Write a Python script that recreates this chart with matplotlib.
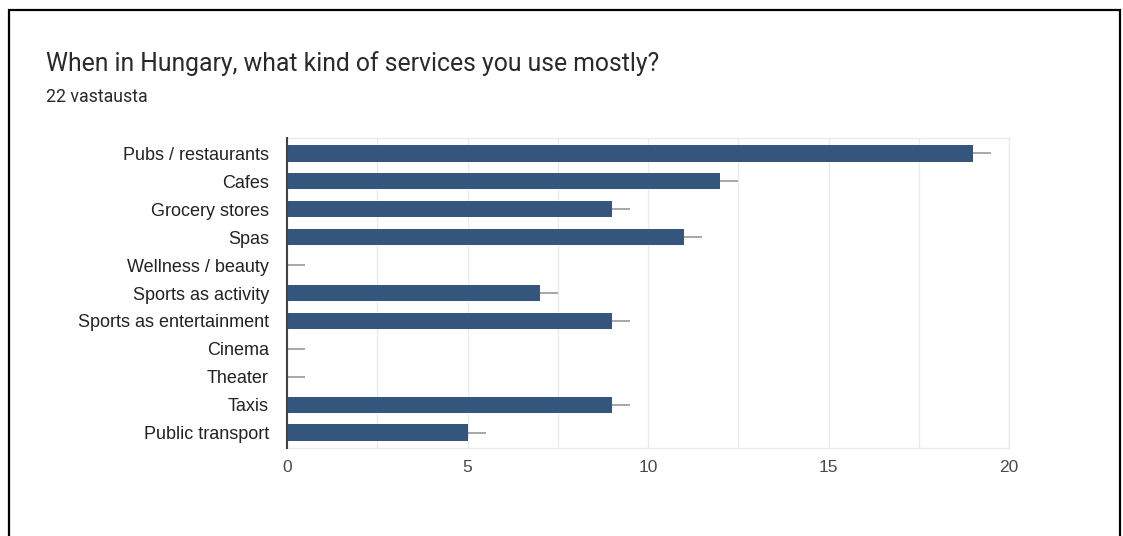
import matplotlib.pyplot as plt
from matplotlib.patches import Rectangle

# Vastausten määrät palveluittain
categories = ["Pubs / restaurants", "Cafes", "Grocery stores", "Spas",
              "Wellness / beauty", "Sports as activity", "Sports as entertainment",
              "Cinema", "Theater", "Taxis", "Public transport"]
counts = [19, 12, 9, 11, 0, 7, 9, 0, 0, 9, 5]
x_ticks = [0, 5, 10, 15, 20]

title = "When in Hungary, what kind of services you use mostly?"
subtitle = "22 vastausta"

bar_color = "#34567c"

fig = plt.figure(figsize=(11.23, 5.36), dpi=100)

# musta kehys kuvan ympärillä (alareuna jää kuvan ulkopuolelle)
fig.add_artist(Rectangle((8.5 / 1123, -0.05), (1120 - 8.5) / 1123, 1.05 - 10.5 / 536,
                         transform=fig.transFigure, fill=False,
                         edgecolor="black", linewidth=1.6))

fig.text(46 / 1123, 1 - 64 / 536, title, fontsize=17.8, family="Roboto",
         color="#2a2a2a", va="center")
fig.text(46 / 1123, 1 - 97 / 536, subtitle, fontsize=12.8, family="Roboto",
         color="#2a2a2a", va="center")

ax = fig.add_axes([287 / 1123, 1 - 448 / 536, (1009 - 287) / 1123, (448 - 138) / 536])

ypos = list(range(len(categories)))
ax.barh(ypos, counts, height=0.6, color=bar_color, zorder=3)

# ohut harmaa viiva jokaisen palkin perässä
for y, c in zip(ypos, counts):
    ax.plot([c, c + 0.5], [y, y], color="#a0a0a0", linewidth=1.3, zorder=2,
            solid_capstyle="butt")

ax.set_xlim(0, 20)
ax.set_ylim(len(categories) - 0.5 + 0.04, -0.5 - 0.04)
ax.set_xticks(x_ticks)
ax.set_xticks([2.5, 7.5, 12.5, 17.5], minor=True)
ax.set_yticks(ypos)
ax.set_yticklabels(categories, family="Liberation Sans", fontsize=13, color="#222222")
for lab in ax.get_xticklabels():
    lab.set_family("Liberation Sans")
ax.tick_params(axis="x", which="both", length=0, labelsize=12.5, labelcolor="#4a4a4a", pad=9)
ax.tick_params(axis="y", length=0, pad=13)
ax.grid(axis="x", which="both", color="#ebebeb", linewidth=1, zorder=0)

for side in ["top", "right", "bottom"]:
    ax.spines[side].set_color("#ebebeb")
    ax.spines[side].set_linewidth(1)
ax.spines["left"].set_color("#444444")
ax.spines["left"].set_linewidth(1.5)
ax.spines["left"].set_zorder(4)

fig.savefig("out.png", dpi=100)
